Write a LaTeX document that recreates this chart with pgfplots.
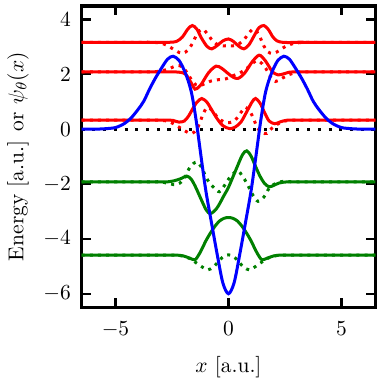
\documentclass[border=0pt]{standalone}
\usepackage{pgfplots}
\pgfplotsset{compat=1.18}
\definecolor{mred}{rgb}{1,0,0}
\definecolor{mgreen}{rgb}{0,0.5,0}
\definecolor{mblue}{rgb}{0,0,1}
\begin{document}
\begin{tikzpicture}
\begin{axis}[
  scale only axis, width=136.8pt, height=140.5pt,
  xmin=-6.5, xmax=6.5, ymin=-6.5, ymax=4.5,
  xtick={-5,0,5}, ytick={-6,-4,-2,0,2,4},
  tick pos=both, tick align=inside, major tick length=4.5pt,
  every tick/.style={black, line width=1pt},
  axis line style={line width=1.6pt},
  yticklabel style={xshift=-1.5pt},
  xticklabel style={yshift=-3.3pt},
  xlabel style={yshift=-1.8pt},
  xlabel={$x$ [a.u.]},
  ylabel={Energy [a.u.] or $\psi_\theta(x)$},
  every axis plot/.append style={line width=1.4pt},
  sol/.style={smooth, tension=0.5},
  dot/.style={smooth, tension=0.5, dash pattern=on 1.4pt off 2.4pt},
]
\addplot[black, dash pattern=on 1.4pt off 3.6pt] coordinates {(-6.5,0)(6.5,0)};
% red top
\addplot[mred, sol] coordinates {(-6.5,3.17)(-6,3.17)(-5.5,3.17)(-5,3.17)(-4.5,3.17)(-4,3.17)(-3.5,3.17)(-3,3.17)(-2.6,3.17)(-2.3,3.2)(-2.04,3.36)(-1.8,3.65)(-1.6,3.78)(-1.4,3.65)(-1.2,3.33)(-0.95,3.02)(-0.74,2.93)(-0.5,3.05)(-0.25,3.22)(0,3.29)(0.22,3.2)(0.45,3.03)(0.68,2.93)(0.9,3.07)(1.14,3.41)(1.35,3.7)(1.57,3.78)(1.77,3.63)(1.96,3.37)(2.15,3.22)(2.38,3.17)(2.7,3.16)(3,3.17)(3.5,3.17)(4,3.17)(4.5,3.17)(5,3.17)(5.5,3.17)(6,3.17)(6.5,3.17)};
\addplot[mred, dot] coordinates {(-6.5,3.17)(-6,3.17)(-5.5,3.17)(-5,3.17)(-4.5,3.17)(-4,3.17)(-3.5,3.17)(-3.2,3.16)(-2.9,3.12)(-2.6,3.0)(-2.3,2.85)(-2.04,2.76)(-1.8,2.88)(-1.6,3.12)(-1.39,3.47)(-1.17,3.65)(-0.95,3.5)(-0.7,3.22)(-0.45,3.07)(-0.2,3.04)(0,3.05)(0.2,3.04)(0.45,3.1)(0.7,3.28)(0.95,3.55)(1.14,3.65)(1.36,3.42)(1.57,3.03)(1.75,2.82)(1.94,2.76)(2.15,2.82)(2.37,2.94)(2.6,3.05)(2.9,3.13)(3.2,3.16)(3.5,3.17)(4,3.17)(4.5,3.17)(5,3.17)(5.5,3.17)(6,3.17)(6.5,3.17)};
% red second
\addplot[mred, sol] coordinates {(-6.5,2.09)(-6,2.09)(-5.5,2.09)(-5,2.09)(-4.5,2.09)(-4,2.09)(-3.5,2.09)(-3,2.09)(-2.7,2.09)(-2.4,2.09)(-2.1,2.07)(-1.89,2.0)(-1.67,1.72)(-1.48,1.46)(-1.3,1.55)(-1.17,1.68)(-0.88,2.06)(-0.55,2.3)(-0.3,2.22)(0,2.02)(0.2,1.9)(0.42,1.85)(0.71,2.04)(1.07,2.48)(1.36,2.7)(1.6,2.53)(1.8,2.28)(1.96,2.08)(2.2,1.98)(2.45,2.02)(2.7,2.08)(3,2.09)(3.5,2.09)(4,2.09)(4.5,2.09)(5,2.09)(5.5,2.09)(6,2.09)(6.5,2.09)};
\addplot[mred, dot] coordinates {(-6.5,2.09)(-6,2.09)(-5.5,2.09)(-5,2.09)(-4.5,2.09)(-4,2.09)(-3.5,2.09)(-3.2,2.1)(-2.9,2.14)(-2.6,2.21)(-2.3,2.32)(-2.05,2.28)(-1.85,2.08)(-1.65,1.82)(-1.45,1.62)(-1.3,1.58)(-1.1,1.64)(-0.8,1.75)(-0.5,1.8)(-0.1,1.84)(0.2,1.95)(0.45,2.03)(0.7,2.15)(0.92,2.29)(1.14,2.45)(1.3,2.5)(1.5,2.38)(1.65,2.22)(1.8,2.0)(1.94,1.82)(2.08,1.74)(2.3,1.82)(2.6,1.96)(2.9,2.05)(3.2,2.09)(3.5,2.09)(4,2.09)(4.5,2.09)(5,2.09)(5.5,2.09)(6,2.09)(6.5,2.09)};
% red third
\addplot[mred, sol] coordinates {(-6.5,0.33)(-6,0.33)(-5.5,0.33)(-5,0.33)(-4.5,0.33)(-4,0.33)(-3.5,0.33)(-3,0.33)(-2.7,0.33)(-2.45,0.32)(-2.2,0.26)(-1.95,0.3)(-1.75,0.5)(-1.6,0.72)(-1.4,0.98)(-1.18,1.12)(-0.95,0.98)(-0.74,0.7)(-0.5,0.38)(-0.25,0.13)(0.05,0.02)(0.3,0.08)(0.56,0.27)(0.85,0.7)(1.05,1.0)(1.2,1.12)(1.4,0.95)(1.6,0.6)(1.8,0.3)(2.05,0.2)(2.3,0.27)(2.6,0.33)(3,0.33)(3.5,0.33)(4,0.33)(4.5,0.33)(5,0.33)(5.5,0.33)(6,0.33)(6.5,0.33)};
\addplot[mred, dot] coordinates {(-6.5,0.33)(-6,0.33)(-5.5,0.33)(-5,0.33)(-4.5,0.33)(-4,0.33)(-3.5,0.33)(-3,0.33)(-2.6,0.27)(-2.3,0.13)(-2.04,0.0)(-1.8,-0.12)(-1.6,-0.15)(-1.4,0.0)(-1.24,0.3)(-1.1,0.6)(-0.92,0.8)(-0.7,0.66)(-0.45,0.4)(-0.2,0.27)(0.05,0.24)(0.3,0.33)(0.5,0.55)(0.75,0.8)(0.95,0.65)(1.1,0.4)(1.29,0.04)(1.5,-0.13)(1.7,-0.15)(1.9,0.02)(2.15,0.17)(2.4,0.28)(2.8,0.33)(3.2,0.33)(3.6,0.33)(4,0.33)(4.5,0.33)(5,0.33)(5.5,0.33)(6,0.33)(6.5,0.33)};
% green upper
\addplot[mgreen, sol] coordinates {(-6.5,-1.92)(-6,-1.92)(-5.5,-1.92)(-5,-1.92)(-4.5,-1.92)(-4,-1.92)(-3.5,-1.92)(-3,-1.92)(-2.7,-1.92)(-2.4,-1.88)(-2.1,-1.8)(-1.85,-1.71)(-1.65,-1.82)(-1.46,-2.1)(-1.17,-2.63)(-0.98,-2.95)(-0.81,-3.08)(-0.62,-2.98)(-0.45,-2.8)(-0.2,-2.42)(0,-2.12)(0.35,-1.44)(0.62,-0.93)(0.81,-0.79)(1.0,-0.98)(1.2,-1.36)(1.4,-1.72)(1.6,-1.98)(1.8,-2.1)(2.0,-2.05)(2.25,-1.96)(2.6,-1.92)(3,-1.92)(3.5,-1.92)(4,-1.92)(4.5,-1.92)(5,-1.92)(5.5,-1.92)(6,-1.92)(6.5,-1.92)};
\addplot[mgreen, dot] coordinates {(-6.5,-1.92)(-6,-1.92)(-5.5,-1.92)(-5,-1.92)(-4.5,-1.92)(-4,-1.92)(-3.5,-1.92)(-3,-1.92)(-2.6,-1.99)(-2.3,-2.02)(-2.0,-1.86)(-1.75,-1.45)(-1.55,-1.25)(-1.38,-1.2)(-1.2,-1.38)(-1.03,-1.68)(-0.85,-1.95)(-0.66,-2.12)(-0.4,-2.28)(-0.15,-2.02)(0.13,-1.68)(0.42,-1.52)(0.62,-1.72)(0.8,-1.95)(1.07,-2.39)(1.31,-2.63)(1.57,-2.47)(1.8,-2.15)(2.0,-2.02)(2.22,-1.93)(2.5,-1.9)(2.8,-1.92)(3.2,-1.92)(3.6,-1.92)(4,-1.92)(4.5,-1.92)(5,-1.92)(5.5,-1.92)(6,-1.92)(6.5,-1.92)};
% green lower
\addplot[mgreen, sol] coordinates {(-6.5,-4.59)(-6,-4.59)(-5.5,-4.59)(-5,-4.59)(-4.5,-4.59)(-4,-4.59)(-3.5,-4.59)(-3,-4.59)(-2.6,-4.59)(-2.3,-4.59)(-2.0,-4.62)(-1.72,-4.7)(-1.48,-4.76)(-1.3,-4.56)(-1.17,-4.36)(-1.0,-4.07)(-0.81,-3.8)(-0.6,-3.54)(-0.4,-3.35)(-0.2,-3.25)(0,-3.22)(0.2,-3.25)(0.4,-3.35)(0.6,-3.54)(0.81,-3.8)(1.0,-4.07)(1.17,-4.36)(1.3,-4.56)(1.48,-4.76)(1.72,-4.7)(2.0,-4.62)(2.3,-4.59)(2.6,-4.59)(3,-4.59)(3.5,-4.59)(4,-4.59)(4.5,-4.59)(5,-4.59)(5.5,-4.59)(6,-4.59)(6.5,-4.59)};
\addplot[mgreen, dot] coordinates {(-6.5,-4.59)(-6,-4.59)(-5.5,-4.59)(-5,-4.59)(-4.5,-4.59)(-4,-4.59)(-3.5,-4.59)(-3,-4.59)(-2.6,-4.59)(-2.3,-4.59)(-2.0,-4.63)(-1.7,-4.72)(-1.45,-4.86)(-1.17,-5.02)(-0.92,-5.13)(-0.66,-5.02)(-0.4,-4.78)(-0.2,-4.63)(0,-4.58)(0.2,-4.63)(0.4,-4.78)(0.66,-5.02)(0.92,-5.13)(1.17,-5.02)(1.45,-4.86)(1.7,-4.72)(2.0,-4.63)(2.3,-4.59)(2.6,-4.59)(3,-4.59)(3.5,-4.59)(4,-4.59)(4.5,-4.59)(5,-4.59)(5.5,-4.59)(6,-4.59)(6.5,-4.59)};
% potential
\addplot[mblue, sol] coordinates {(-6.5,0)(-6,0)(-5.5,0.015)(-5,0.06)(-4.6,0.21)(-4.3,0.42)(-4,0.72)(-3.75,1.02)(-3.5,1.45)(-3.25,1.84)(-3,2.18)(-2.7,2.55)(-2.45,2.66)(-2.2,2.52)(-2.02,2.26)(-1.9,2.03)(-1.78,1.76)(-1.65,1.38)(-1.55,0.95)(-1.4,0.15)(-1.2,-1.08)(-1,-2.25)(-0.75,-3.42)(-0.5,-4.56)(-0.25,-5.6)(0,-6)(0.25,-5.6)(0.5,-4.56)(0.75,-3.42)(1,-2.25)(1.2,-1.08)(1.4,0.15)(1.55,0.95)(1.65,1.38)(1.78,1.76)(1.9,2.03)(2.02,2.26)(2.2,2.52)(2.45,2.66)(2.7,2.55)(3,2.18)(3.25,1.84)(3.5,1.45)(3.75,1.02)(4,0.72)(4.3,0.42)(4.6,0.21)(5,0.06)(5.5,0.015)(6,0)(6.5,0)};
\end{axis}
\path ([shift={(-35pt,-31.8pt)}]current axis.south west) ([shift={(3.2pt,2.7pt)}]current axis.north east);
\end{tikzpicture}
\end{document}
